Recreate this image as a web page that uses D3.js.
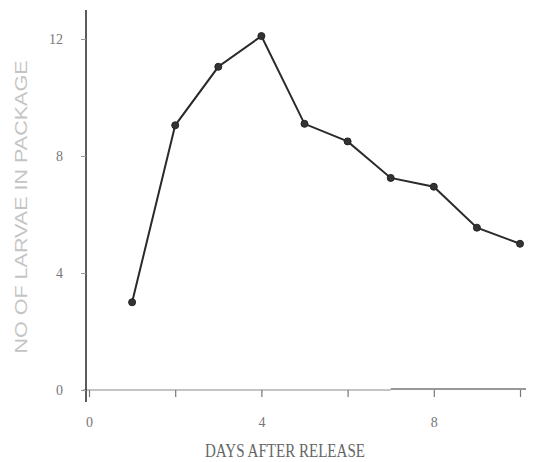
<!DOCTYPE html>
<html><head><meta charset="utf-8">
<script src="https://cdn.jsdelivr.net/npm/d3@7"></script>
<style>body{margin:0;background:#fff}svg{display:block}</style>
</head><body>
<script>
const days = [1,2,3,4,5,6,7,8,9,10];
const larvae = [3.0,9.05,11.05,12.1,9.1,8.5,7.25,6.95,5.55,5.0];
const xTicks = [0,2,4,6,8,10];
const xTickLabels = [0,4,8];
const yTicks = [0,4,8,12];
const xTitle = "DAYS AFTER RELEASE";
const yTitle = "NO OF LARVAE IN PACKAGE";

const W=533,H=462;
const svg=d3.select("body").append("svg").attr("width",W).attr("height",H);
const x=d3.scaleLinear().domain([0,10]).range([89,520]);
const y=d3.scaleLinear().domain([0,12]).range([390,39]);
const font="'Liberation Serif','DejaVu Serif',serif";

// x axis
const xa=svg.append("g").attr("transform","translate(0,"+y(0)+")")
  .call(d3.axisBottom(x).tickValues(xTicks).tickSize(7).tickFormat(d=>xTickLabels.includes(d)?d:""));
xa.select(".domain").attr("stroke","#c4c4c4").attr("stroke-width",2).attr("d","M"+(x(0)-6)+",0H"+(x(7.0)));
xa.selectAll(".tick line").attr("stroke","#777").attr("stroke-width",1.2);
xa.selectAll(".tick text").attr("font-family",font).attr("font-size",14).attr("fill","#777").attr("dy","1.9em");
svg.append("line").attr("x1",x(7.0)).attr("x2",x(10)+6).attr("y1",y(0)-1).attr("y2",y(0)-1).attr("stroke","#333").attr("stroke-width",1.2);

// y axis
const ya=svg.append("g").attr("transform","translate("+(x(0)-3)+",0)")
  .call(d3.axisLeft(y).tickValues(yTicks).tickSize(5).tickPadding(18));
ya.select(".domain").attr("stroke","#333").attr("stroke-width",1.6).attr("d","M0,"+10+"V"+402);
ya.selectAll(".tick line").attr("stroke","#999");
ya.selectAll(".tick text").attr("font-family",font).attr("font-size",14).attr("fill","#777");

// titles
svg.append("text").attr("x",285).attr("y",457).attr("text-anchor","middle")
  .attr("font-family",font).attr("font-size",19).attr("fill","#666")
  .attr("textLength",160).attr("lengthAdjust","spacingAndGlyphs").text(xTitle);
svg.append("text").attr("transform","translate(27,207) rotate(-90)").attr("text-anchor","middle")
  .attr("font-family","'Liberation Sans','DejaVu Sans',sans-serif").attr("font-size",17).attr("fill","#c4c4c4")
  .attr("textLength",293).attr("lengthAdjust","spacingAndGlyphs").text(yTitle);

// line
const data=days.map((d,i)=>({d,v:larvae[i]}));
svg.append("path").datum(data).attr("fill","none").attr("stroke","#2a2a2a").attr("stroke-width",2)
  .attr("d",d3.line().x(p=>x(p.d)).y(p=>y(p.v)));
svg.selectAll("circle").data(data).join("circle").attr("cx",p=>x(p.d)).attr("cy",p=>y(p.v)).attr("r",3.5)
  .attr("fill","#333").attr("stroke","#222");
</script>
</body></html>
